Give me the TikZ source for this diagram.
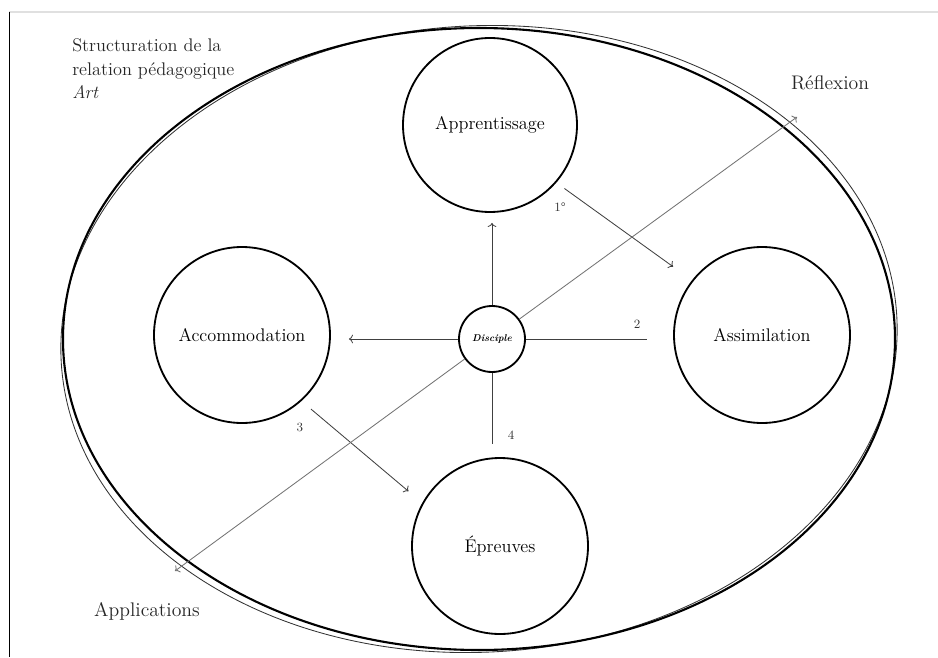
\documentclass[tikz,border=0pt]{standalone}
\usepackage{tikz}
\usetikzlibrary{positioning, arrows, arrows.meta}

\begin{document}
\begin{tikzpicture}[
  stage/.style={circle, draw, line width=1.3pt, minimum size=4.4cm, inner sep=0pt, font=\fontsize{13}{15}\selectfont},
  flow/.style={->, black!75, line width=0.6pt},
  num/.style={font=\fontsize{9}{10}\selectfont, text=black!80},
  lbl/.style={font=\fontsize{14}{16}\selectfont, text=black!85}
]
\useasboundingbox (-12.3,-7.95) rectangle (11.15,8.475);
% frame of the page
\draw[black!12, line width=1pt] (-12.075,8.175) -- (11.15,8.175);
\draw[line width=0.6pt] (-12.075,8.175) -- (-12.075,-7.95);
% outer ellipses
\draw[black!80, line width=0.6pt, rotate around={3:(-0.325,0)}] (-0.325,0) ellipse (10.46 and 7.83);
\draw[line width=1.5pt] (-0.325,0) ellipse (10.4 and 7.775);
% stages
\node[stage, minimum size=4.35cm] (app) at (-0.05,5.35) {Apprentissage};
\node[stage] (asm) at (6.75,0.1) {Assimilation};
\node[stage] (acc) at (-6.25,0.1) {Accommodation};
\node[stage] (epr) at (0.2,-5.175) {Épreuves};
\node[circle, draw, line width=1.3pt, minimum size=1.65cm, inner sep=0pt, font=\scriptsize\bfseries\itshape] (disc) at (0,0) {Disciple};
% ends of the diagonal
\coordinate (refl) at (7.625,5.55);
\coordinate (appl) at (-7.925,-5.8);
% from the centre
\draw[flow, shorten >=0.25cm] (disc.north) -- (disc.north |- app.south);
\draw[flow, shorten >=0.45cm] (disc.west) -- (disc.west -| acc.east);
\draw[flow, -, shorten >=0.65cm] (disc.east) -- (disc.east -| asm.west);
\draw[flow, -, shorten >=0.33cm] (disc.south) -- (disc.south |- epr.north);
% between stages
\draw[flow, shorten <=0.25cm, shorten >=0.58cm] (app.-41) -- (asm.142);
\draw[flow, shorten <=0.31cm, shorten >=0.45cm] (acc.-48) -- (epr.151);
% diagonal
\draw[flow, black!55] (disc) -- (refl);
\draw[flow, black!55] (disc) -- (appl);
% numbers
\node[num] (n1) at (1.7,3.3) {1°};
\node[num] (n2) at (3.625,0.375) {2};
\node[num] (n3) at (-4.8,-2.2) {3};
\node[num] (n4) at (0.475,-2.4) {4};
% labels
\node[lbl] (refltxt) at (8.45,6.4) {Réflexion};
\node[lbl] (appltxt) at (-8.625,-6.8) {Applications};
\node[anchor=north west, align=left, inner sep=0pt, font=\fontsize{13}{17}\selectfont, text=black!85] (title) at (-10.5,7.525) {Structuration de la\\relation pédagogique\\\textit{Art}};
\end{tikzpicture}
\end{document}
